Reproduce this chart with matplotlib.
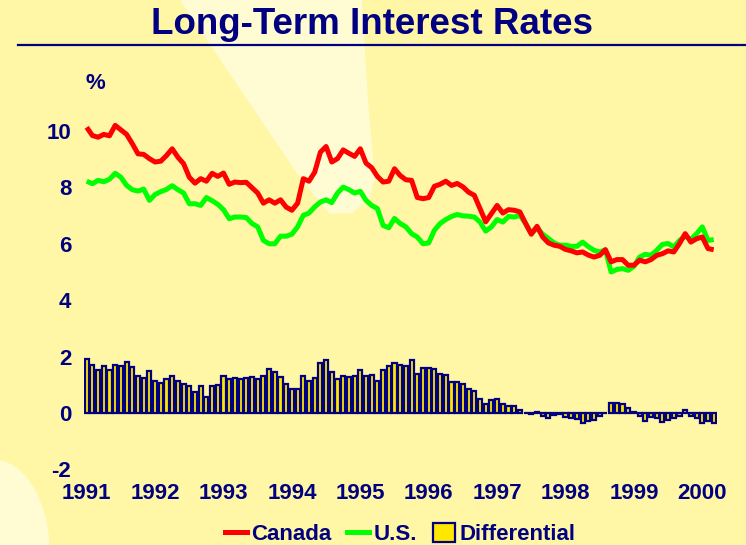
import numpy as np
import matplotlib
matplotlib.use("Agg")
import matplotlib.pyplot as plt
from matplotlib.patches import Polygon, Ellipse, Patch
from matplotlib.lines import Line2D

# ---------------- data (monthly, Jan 1991 - Mar 2000) ----------------
years = ["1991", "1992", "1993", "1994", "1995", "1996", "1997", "1998", "1999", "2000"]

canada = [10.13, 9.84, 9.78, 9.88, 9.83, 10.2, 10.04, 9.88, 9.55, 9.19, 9.17, 9.02,
          8.9, 8.93, 9.13, 9.37, 9.07, 8.84, 8.36, 8.15, 8.31, 8.22, 8.5,
          8.39, 8.51, 8.11, 8.19, 8.17, 8.18, 7.99, 7.8, 7.44, 7.56, 7.44, 7.56,
          7.3, 7.19, 7.44, 8.31, 8.22, 8.54, 9.25, 9.45, 8.9, 9.02,
          9.33, 9.21, 9.1, 9.37, 8.86, 8.7, 8.39, 8.19, 8.22, 8.66, 8.42, 8.27,
          8.25, 7.64, 7.6, 7.64, 8.04, 8.11, 8.22, 8.07, 8.14, 8.02,
          7.83, 7.72, 7.25, 6.78, 7.07, 7.36, 7.09, 7.21, 7.19, 7.13, 6.72, 6.34,
          6.62, 6.24, 6.03, 5.95, 5.91, 5.8, 5.75, 5.68, 5.71, 5.6,
          5.53, 5.59, 5.79, 5.36, 5.44, 5.44, 5.24, 5.24, 5.42, 5.36, 5.44, 5.59,
          5.65, 5.75, 5.71, 6.01, 6.36, 6.06, 6.18, 6.24, 5.83, 5.79]

us = [8.22, 8.13, 8.25, 8.2, 8.29, 8.5, 8.36, 8.07, 7.92, 7.87, 7.94, 7.54,
      7.75, 7.85, 7.93, 8.06, 7.92, 7.8, 7.42, 7.42, 7.36, 7.64, 7.53,
      7.4, 7.21, 6.89, 6.95, 6.95, 6.93, 6.72, 6.6, 6.12, 6.0, 6.0, 6.27,
      6.27, 6.34, 6.6, 7.01, 7.09, 7.31, 7.48, 7.56, 7.46, 7.8,
      8.01, 7.92, 7.8, 7.86, 7.54, 7.36, 7.25, 6.65, 6.57, 6.9, 6.72, 6.6,
      6.36, 6.24, 6.0, 6.03, 6.48, 6.72, 6.86, 6.97, 7.04, 6.99,
      6.98, 6.95, 6.77, 6.45, 6.6, 6.86, 6.77, 6.97, 6.95, 7.01, 6.72, 6.36,
      6.57, 6.34, 6.19, 6.03, 5.95, 5.95, 5.91, 5.91, 6.06, 5.9,
      5.77, 5.71, 5.79, 5.0, 5.09, 5.12, 5.06, 5.2, 5.53, 5.63, 5.59, 5.77,
      5.98, 6.01, 5.89, 6.12, 6.27, 6.15, 6.36, 6.6, 6.12, 6.15]

yticks = [-2, 0, 2, 4, 6, 8, 10]

# differential = Canada - U.S.
canada_a = np.array(canada)
us_a = np.array(us)
differential = canada_a - us_a
months = np.arange(len(canada))

# ---------------- styling ----------------
W, H = 746, 545
BG = "#FFF6A6"
LIGHT = "#FFFBD2"
NAVY = "#000080"
FONT = ["Liberation Sans", "DejaVu Sans"]

def fx(x):
    return x / W

def fy(y):
    return 1 - y / H

fig = plt.figure(figsize=(W / 100, H / 100), dpi=100)
fig.patch.set_facecolor(BG)

# light beams in the background
beam = [(180, 0), (362, 0), (368, 100), (375, 180), (368, 200), (352, 213),
        (330, 214), (300, 178)]
fig.add_artist(Polygon([(fx(x), fy(y)) for x, y in beam], closed=True,
                       transform=fig.transFigure, facecolor=LIGHT,
                       edgecolor="none", zorder=-5))
fig.add_artist(Ellipse((fx(-5), fy(555)), width=2 * 55 / W, height=2 * 95 / H,
                       transform=fig.transFigure, facecolor=LIGHT,
                       edgecolor="none", zorder=-5))

# axes placement (pixel geometry)
px_month = 5.7
x0 = 86.7
left = x0 - 0.5 * px_month
right = x0 + (len(canada) - 0.5) * px_month
ppu = 28.2
zero_y = 413
ymin, ymax = -2, 12
top_px = zero_y - ymax * ppu
bot_px = zero_y - ymin * ppu

ax = fig.add_axes([fx(left), fy(bot_px), (right - left) / W, (bot_px - top_px) / H])
ax.set_facecolor("none")
ax.set_xlim(-0.5, len(canada) - 0.5)
ax.set_ylim(ymin, ymax)
for s in ax.spines.values():
    s.set_visible(False)

ax.bar(months, differential, width=0.72, color="#FFE800", edgecolor=NAVY,
       linewidth=1.6, zorder=2)
ax.plot(months, canada_a, color="#FF0000", lw=3.6, zorder=4,
        solid_joinstyle="round", solid_capstyle="butt")
ax.plot(months, us_a, color="#00FF00", lw=3.6, zorder=3,
        solid_joinstyle="round", solid_capstyle="butt")

ax.set_yticks(yticks)
ax.set_yticklabels([str(v) for v in yticks])
ax.set_xticks(np.arange(len(years)) * 12)
ax.set_xticklabels(years)
ax.tick_params(axis="both", length=0, labelsize=16, labelcolor=NAVY)
ax.tick_params(axis="y", pad=9)
ax.tick_params(axis="x", pad=10)
for lab in ax.get_xticklabels() + ax.get_yticklabels():
    lab.set_fontweight("bold")
    lab.set_family(FONT)

# % label
fig.text(fx(95), fy(83), "%", ha="center", va="center", fontsize=16,
         fontweight="bold", color=NAVY, family=FONT)

# title and rule
fig.text(fx(372), fy(25), "Long-Term Interest Rates", ha="center", va="center",
         fontsize=26.5, fontweight="bold", color=NAVY, family=FONT)
fig.add_artist(Line2D([fx(18), fx(746)], [fy(45), fy(45)], color=NAVY, lw=1.6,
                      transform=fig.transFigure))

# legend
handles = [Line2D([], [], color="#FF0000", lw=3.6),
           Line2D([], [], color="#00FF00", lw=3.6),
           Patch(facecolor="#FFE800", edgecolor=NAVY, linewidth=1.6)]
leg = fig.legend(handles, ["Canada", "U.S.", "Differential"], loc="center",
                 bbox_to_anchor=(fx(400), fy(534)), ncol=3, frameon=False,
                 prop={"family": FONT, "weight": "bold", "size": 16},
                 handlelength=1.0, handleheight=0.9, handletextpad=0.2,
                 columnspacing=0.7, borderpad=0)
for t in leg.get_texts():
    t.set_color(NAVY)

fig.savefig("out.png", dpi=100, facecolor=BG)
